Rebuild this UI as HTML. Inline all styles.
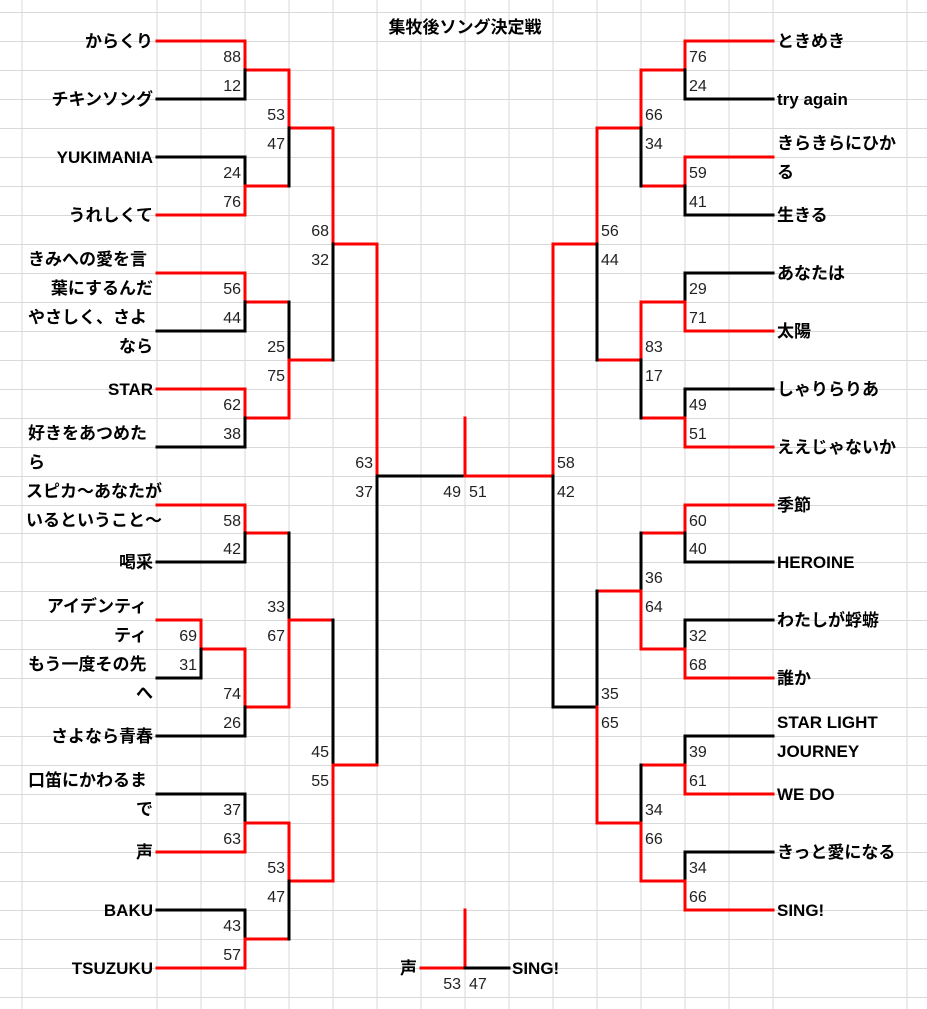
<!DOCTYPE html>
<html><head><meta charset="utf-8">
<style>
html,body{margin:0;padding:0;background:#fff;}
svg{display:block;}
.n{font-family:"Liberation Sans","Noto Sans CJK JP",sans-serif;font-weight:bold;font-size:17px;fill:#000;}
.s{font-family:"Liberation Sans","Noto Sans CJK JP",sans-serif;font-size:16px;fill:#222;}
.r{stroke:#ff0000;stroke-width:3;fill:none;stroke-linecap:square;}
.b{stroke:#000;stroke-width:3;fill:none;stroke-linecap:square;}
.g{stroke:#d9d9d9;stroke-width:1;}
</style></head><body>
<svg width="927" height="1009" viewBox="0 0 927 1009" xmlns="http://www.w3.org/2000/svg">
<g class="g">
<line x1="22" y1="0" x2="22" y2="1009"/><line x1="157" y1="0" x2="157" y2="1009"/><line x1="201" y1="0" x2="201" y2="1009"/><line x1="245" y1="0" x2="245" y2="1009"/><line x1="289" y1="0" x2="289" y2="1009"/><line x1="333" y1="0" x2="333" y2="1009"/><line x1="377" y1="0" x2="377" y2="1009"/><line x1="421" y1="0" x2="421" y2="1009"/><line x1="465" y1="0" x2="465" y2="1009"/><line x1="509" y1="0" x2="509" y2="1009"/><line x1="553" y1="0" x2="553" y2="1009"/><line x1="597" y1="0" x2="597" y2="1009"/><line x1="641" y1="0" x2="641" y2="1009"/><line x1="685" y1="0" x2="685" y2="1009"/><line x1="729" y1="0" x2="729" y2="1009"/><line x1="773" y1="0" x2="773" y2="1009"/><line x1="907" y1="0" x2="907" y2="1009"/>
<line x1="0" y1="12.5" x2="927" y2="12.5"/><line x1="0" y1="41.5" x2="927" y2="41.5"/><line x1="0" y1="70.5" x2="927" y2="70.5"/><line x1="0" y1="99.5" x2="927" y2="99.5"/><line x1="0" y1="128.5" x2="927" y2="128.5"/><line x1="0" y1="157.5" x2="927" y2="157.5"/><line x1="0" y1="186.5" x2="927" y2="186.5"/><line x1="0" y1="215.5" x2="927" y2="215.5"/><line x1="0" y1="244.5" x2="927" y2="244.5"/><line x1="0" y1="273.5" x2="927" y2="273.5"/><line x1="0" y1="302.5" x2="927" y2="302.5"/><line x1="0" y1="331.5" x2="927" y2="331.5"/><line x1="0" y1="360.5" x2="927" y2="360.5"/><line x1="0" y1="389.5" x2="927" y2="389.5"/><line x1="0" y1="418.5" x2="927" y2="418.5"/><line x1="0" y1="447.5" x2="927" y2="447.5"/><line x1="0" y1="476.5" x2="927" y2="476.5"/><line x1="0" y1="505.5" x2="927" y2="505.5"/><line x1="0" y1="533.5" x2="927" y2="533.5"/><line x1="0" y1="562.5" x2="927" y2="562.5"/><line x1="0" y1="591.5" x2="927" y2="591.5"/><line x1="0" y1="620.5" x2="927" y2="620.5"/><line x1="0" y1="649.5" x2="927" y2="649.5"/><line x1="0" y1="678.5" x2="927" y2="678.5"/><line x1="0" y1="707.5" x2="927" y2="707.5"/><line x1="0" y1="736.5" x2="927" y2="736.5"/><line x1="0" y1="765.5" x2="927" y2="765.5"/><line x1="0" y1="794.5" x2="927" y2="794.5"/><line x1="0" y1="823.5" x2="927" y2="823.5"/><line x1="0" y1="852.5" x2="927" y2="852.5"/><line x1="0" y1="881.5" x2="927" y2="881.5"/><line x1="0" y1="910.5" x2="927" y2="910.5"/><line x1="0" y1="939.5" x2="927" y2="939.5"/><line x1="0" y1="968.5" x2="927" y2="968.5"/><line x1="0" y1="997.5" x2="927" y2="997.5"/>
</g>
<!-- left top -->
<path class="r" d="M157 41H245V70H289"/><path class="b" d="M245 70V99H157"/>
<path class="b" d="M157 157H245V186"/><path class="r" d="M245 186V215H157M245 186H289"/>
<path class="r" d="M289 70V128H333"/><path class="b" d="M289 128V186"/>
<path class="r" d="M157 273H245V302H289"/><path class="b" d="M245 302V331H157"/>
<path class="r" d="M157 389H245V418H289"/><path class="b" d="M245 418V447H157"/>
<path class="b" d="M289 302V360"/><path class="r" d="M289 360V418M289 360H333"/>
<path class="r" d="M333 128V244H377"/><path class="b" d="M333 244V360"/>
<path class="r" d="M377 244V476"/><path class="b" d="M377 476V765M377 476H465"/>
<path class="r" d="M465 418V476H553V244"/><path class="b" d="M553 476V707"/>
<!-- left bottom -->
<path class="r" d="M157 505H245V533H289"/><path class="b" d="M245 533V562H157"/>
<path class="r" d="M157 620H201V649H245"/><path class="b" d="M201 649V678H157"/>
<path class="r" d="M245 649V707H289"/><path class="b" d="M245 707V736H157"/>
<path class="b" d="M289 533V620"/><path class="r" d="M289 620V707M289 620H333"/>
<path class="b" d="M157 794H245V823"/><path class="r" d="M245 823V852H157M245 823H289"/>
<path class="b" d="M157 910H245V939"/><path class="r" d="M245 939V968H157M245 939H289"/>
<path class="r" d="M289 823V881H333"/><path class="b" d="M289 881V939"/>
<path class="b" d="M333 620V765"/><path class="r" d="M333 765V881M333 765H377"/>
<!-- right top -->
<path class="r" d="M773 41H685V70H641"/><path class="b" d="M685 70V99H773"/>
<path class="r" d="M773 157H685V186H641"/><path class="b" d="M685 186V215H773"/>
<path class="r" d="M641 70V128H597"/><path class="b" d="M641 128V186"/>
<path class="b" d="M773 273H685V302"/><path class="r" d="M685 302V331H773M685 302H641"/>
<path class="b" d="M773 389H685V418"/><path class="r" d="M685 418V447H773M685 418H641"/>
<path class="r" d="M641 302V360H597"/><path class="b" d="M641 360V418"/>
<path class="r" d="M597 128V244H553"/><path class="b" d="M597 244V360"/>
<!-- right bottom -->
<path class="r" d="M773 505H685V533H641"/><path class="b" d="M685 533V562H773"/>
<path class="b" d="M773 620H685V649"/><path class="r" d="M685 649V678H773M685 649H641"/>
<path class="b" d="M641 533V591"/><path class="r" d="M641 591V649M641 591H597"/>
<path class="b" d="M773 736H685V765"/><path class="r" d="M685 765V794H773M685 765H641"/>
<path class="b" d="M773 852H685V881"/><path class="r" d="M685 881V910H773M685 881H641"/>
<path class="b" d="M641 765V823"/><path class="r" d="M641 823V881M641 823H597"/>
<path class="b" d="M597 591V707H553"/><path class="r" d="M597 707V823"/>
<!-- final -->
<path class="r" d="M465 910V968H421"/><path class="b" d="M465 968H509"/>

<text class="n" x="465" y="33" text-anchor="middle" font-size="16">集牧後ソング決定戦</text>

<g class="n" text-anchor="end">
<text x="153" y="47">からくり</text>
<text x="153" y="105">チキンソング</text>
<text x="153" y="163">YUKIMANIA</text>
<text x="153" y="221">うれしくて</text>
<text x="153" y="294">葉にするんだ</text>
<text x="153" y="352">なら</text>
<text x="153" y="395">STAR</text>
<text x="153" y="568">喝采</text>
<text x="147" y="612">アイデンティ</text>
<text x="147" y="641">ティ</text>
<text x="153" y="699">へ</text>
<text x="153" y="742">さよなら青春</text>
<text x="153" y="815">で</text>
<text x="153" y="858">声</text>
<text x="153" y="916">BAKU</text>
<text x="153" y="974">TSUZUKU</text>
<text x="417" y="974">声</text>
</g>
<g class="n">
<text x="28" y="265">きみへの愛を言</text>
<text x="28" y="323">やさしく、さよ</text>
<text x="28" y="439">好きをあつめた</text>
<text x="28" y="468">ら</text>
<text x="26" y="497">スピカ～あなたが</text>
<text x="26" y="526">いるということ～</text>
<text x="28" y="670">もう一度その先</text>
<text x="28" y="786">口笛にかわるま</text>
<text x="512" y="974">SING!</text>
<text x="777" y="47">ときめき</text>
<text x="777" y="105">try again</text>
<text x="777" y="149">きらきらにひか</text>
<text x="777" y="178">る</text>
<text x="777" y="221">生きる</text>
<text x="777" y="279">あなたは</text>
<text x="777" y="337">太陽</text>
<text x="777" y="395">しゃりらりあ</text>
<text x="777" y="453">ええじゃないか</text>
<text x="777" y="511">季節</text>
<text x="777" y="568">HEROINE</text>
<text x="777" y="626">わたしが蜉蝣</text>
<text x="777" y="684">誰か</text>
<text x="777" y="728">STAR LIGHT</text>
<text x="777" y="757">JOURNEY</text>
<text x="777" y="800">WE DO</text>
<text x="777" y="858">きっと愛になる</text>
<text x="777" y="916">SING!</text>
</g>

<g class="s" text-anchor="end">
<text x="241" y="62">88</text><text x="241" y="91">12</text>
<text x="241" y="178">24</text><text x="241" y="207">76</text>
<text x="241" y="294">56</text><text x="241" y="323">44</text>
<text x="241" y="410">62</text><text x="241" y="439">38</text>
<text x="241" y="526">58</text><text x="241" y="554">42</text>
<text x="241" y="699">74</text><text x="241" y="728">26</text>
<text x="241" y="815">37</text><text x="241" y="844">63</text>
<text x="241" y="931">43</text><text x="241" y="960">57</text>
<text x="197" y="641">69</text><text x="197" y="670">31</text>
<text x="285" y="120">53</text><text x="285" y="149">47</text>
<text x="285" y="352">25</text><text x="285" y="381">75</text>
<text x="285" y="612">33</text><text x="285" y="641">67</text>
<text x="285" y="873">53</text><text x="285" y="902">47</text>
<text x="329" y="236">68</text><text x="329" y="265">32</text>
<text x="329" y="757">45</text><text x="329" y="786">55</text>
<text x="373" y="468">63</text><text x="373" y="497">37</text>
<text x="461" y="497">49</text><text x="461" y="989">53</text>
</g>
<g class="s">
<text x="469" y="497">51</text><text x="469" y="989">47</text>
<text x="689" y="62">76</text><text x="689" y="91">24</text>
<text x="689" y="178">59</text><text x="689" y="207">41</text>
<text x="689" y="294">29</text><text x="689" y="323">71</text>
<text x="689" y="410">49</text><text x="689" y="439">51</text>
<text x="689" y="526">60</text><text x="689" y="554">40</text>
<text x="689" y="641">32</text><text x="689" y="670">68</text>
<text x="689" y="757">39</text><text x="689" y="786">61</text>
<text x="689" y="873">34</text><text x="689" y="902">66</text>
<text x="645" y="120">66</text><text x="645" y="149">34</text>
<text x="645" y="352">83</text><text x="645" y="381">17</text>
<text x="645" y="583">36</text><text x="645" y="612">64</text>
<text x="645" y="815">34</text><text x="645" y="844">66</text>
<text x="601" y="236">56</text><text x="601" y="265">44</text>
<text x="601" y="699">35</text><text x="601" y="728">65</text>
<text x="557" y="468">58</text><text x="557" y="497">42</text>
</g>
</svg>
</body></html>
